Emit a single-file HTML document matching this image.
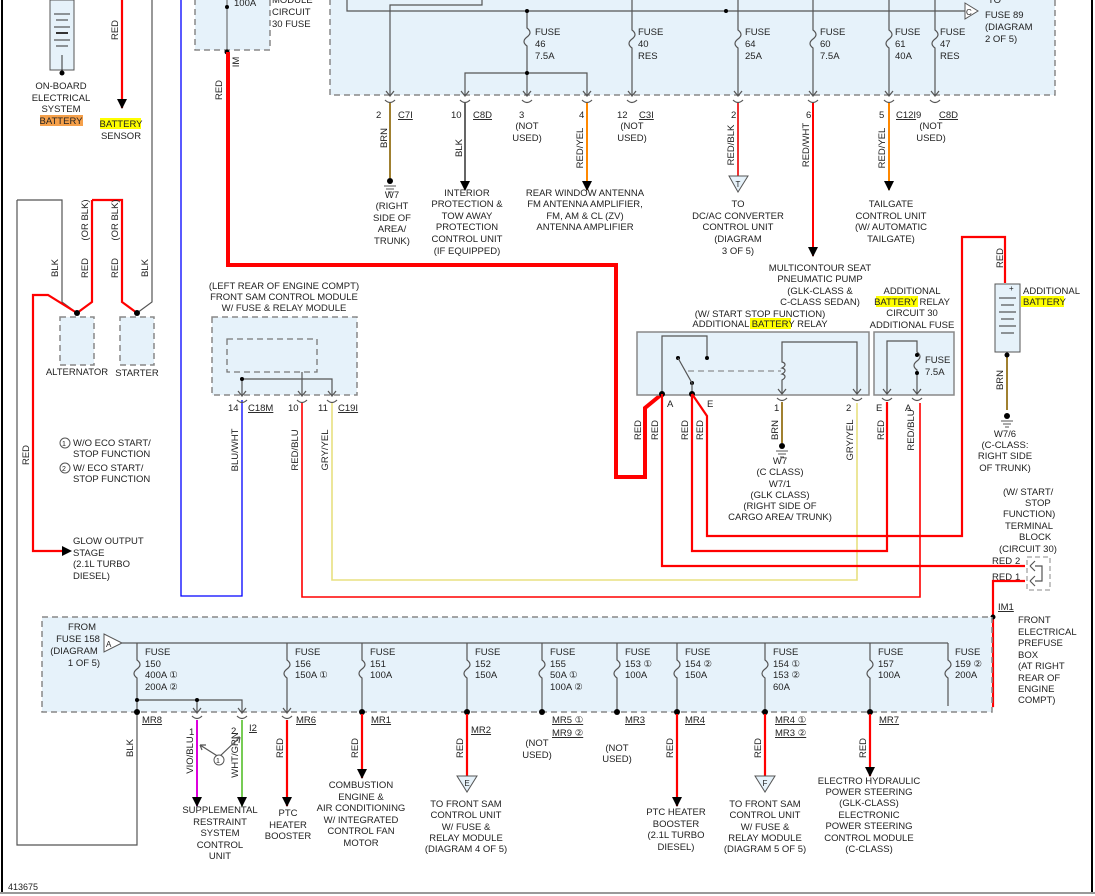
<!DOCTYPE html>
<html><head><meta charset="utf-8"><style>
body{margin:0;background:#fff}
svg{display:block}
text{font-family:"Liberation Sans",sans-serif;font-size:9.5px;fill:#222}
.m{text-anchor:middle}
.box{fill:#e6f2fa;stroke:#888;stroke-width:1.5;stroke-dasharray:6,4}
.g{stroke:#555;stroke-width:1.2;fill:none}
.r{stroke:#f00;stroke-width:2.2;fill:none}
</style></head><body>
<svg width="1095" height="896" viewBox="0 0 1095 896" xmlns="http://www.w3.org/2000/svg">
<defs>
<marker id="ar" markerWidth="12" markerHeight="12" refX="9" refY="5" orient="auto" markerUnits="userSpaceOnUse"><path d="M0,0 L10,5 L0,10 Z" fill="#000"/></marker>
</defs>
<line x1="2" y1="0" x2="2" y2="893" stroke="#000" stroke-width="2"/>
<line x1="1092" y1="0" x2="1092" y2="893" stroke="#000" stroke-width="2"/>
<line x1="0" y1="893" x2="1095" y2="893" stroke="#999" stroke-width="2"/>
<text x="8" y="890" style="font-size:9px">413675</text>

<rect x="50" y="0" width="24" height="70" fill="#e6f2fa" stroke="#555"/>
<g stroke="#333"><line x1="54" y1="14" x2="70" y2="14"/><line x1="56" y1="20" x2="68" y2="20"/><line x1="54" y1="27" x2="70" y2="27"/><line x1="56" y1="33" x2="68" y2="33" stroke-width="2"/><line x1="54" y1="40" x2="70" y2="40"/><line x1="56" y1="46" x2="68" y2="46"/><line x1="62" y1="55" x2="62" y2="72"/></g>
<circle cx="62" cy="73" r="2.5" fill="#000"/>
<text class="m" x="61" y="89">ON-BOARD</text><text class="m" x="61" y="101">ELECTRICAL</text><text class="m" x="61" y="112">SYSTEM</text>
<rect x="40" y="115" width="43" height="11" fill="#f5a04a"/><text class="m" x="61" y="124">BATTERY</text>
<line x1="122" y1="0" x2="122" y2="108" class="r" marker-end="url(#ar)"/>
<text transform="translate(118,30) rotate(-90)" class="m">RED</text>
<rect x="100" y="118" width="41" height="11" fill="#ff0"/><text class="m" x="121" y="127">BATTERY</text><text class="m" x="121" y="139">SENSOR</text>
<path class="g" d="M152,0 V302 L137,313" stroke-width="1.5"/>
<path class="g" d="M17,200 H62 V302 L77,313" stroke-width="1.5"/>
<path class="r" d="M92,200 H122 V302 L137,313"/>
<path class="r" d="M92,200 V302 L77,313"/>
<path class="r" d="M63,551 H33 V295 H48 L77,313"/>
<path d="M62,546 L72,551 L62,556 Z" fill="#000"/>
<path class="g" d="M17,200 V845 H137 V712" stroke-width="1.5"/>
<text transform="translate(58,268) rotate(-90)" class="m">BLK</text>
<text transform="translate(88,268) rotate(-90)" class="m">RED</text>
<text transform="translate(88,220) rotate(-90)" class="m">(OR BLK)</text>
<text transform="translate(118,268) rotate(-90)" class="m">RED</text>
<text transform="translate(118,220) rotate(-90)" class="m">(OR BLK)</text>
<text transform="translate(148,268) rotate(-90)" class="m">BLK</text>
<text transform="translate(29,455) rotate(-90)" class="m">RED</text>
<circle cx="77" cy="313" r="3" fill="#000"/><circle cx="137" cy="313" r="3" fill="#000"/>
<rect class="box" x="60" y="317" width="34" height="48"/>
<rect class="box" x="120" y="317" width="34" height="48"/>
<text class="m" x="77" y="375">ALTERNATOR</text><text class="m" x="137" y="376">STARTER</text>
<circle cx="65" cy="443" r="5" fill="none" stroke="#555"/><text x="62" y="446" style="font-size:7px">1</text>
<text x="73" y="446">W/O ECO START/</text><text x="73" y="457">STOP FUNCTION</text>
<circle cx="65" cy="468" r="5" fill="none" stroke="#555"/><text x="62" y="471" style="font-size:7px">2</text>
<text x="73" y="471">W/ ECO START/</text><text x="73" y="482">STOP FUNCTION</text>
<text x="73" y="544">GLOW OUTPUT</text><text x="73" y="556">STAGE</text><text x="73" y="567">(2.1L TURBO</text><text x="73" y="579">DIESEL)</text>

<rect class="box" x="195" y="-5" width="75" height="55"/>
<text x="234" y="6">100A</text>
<text x="272" y="3">MODULE</text><text x="272" y="15">CIRCUIT</text><text x="272" y="27">30 FUSE</text>
<line x1="227" y1="0" x2="227" y2="52" stroke="#555"/>
<circle cx="227" cy="7" r="2" fill="#000"/><circle cx="227" cy="52" r="2.5" fill="#000"/>
<text transform="translate(239,62) rotate(-90)" class="m">IM</text>
<path d="M228,52 V265 H616 V477 H645 V408 L662,394" stroke="#f00" stroke-width="4" fill="none"/>
<text transform="translate(222,90) rotate(-90)" class="m">RED</text>

<path d="M181,0 V596 H242 V400" stroke="#00f" stroke-width="1.3" fill="none"/>

<rect class="box" x="330" y="-5" width="725" height="100"/>
<path class="g" d="M347,0 V11 H965"/>
<path class="g" d="M390,95 V5 H482 V0"/>
<path class="g" d="M465,95 V73 H587 V95"/>
<path d="M965,3 L978,11 L965,19 Z" fill="#fff" stroke="#555"/><text x="966" y="15" style="font-size:8px">C</text>
<text x="988" y="3">TO</text><text x="985" y="18">FUSE 89</text><text x="985" y="30">(DIAGRAM</text><text x="985" y="42">2 OF 5)</text>
<g class="g">
<path d="M527,11 V28 c4,3 4,6 0,9 c-4,3 -4,6 0,9 V95"/>
<path d="M632,0 V30 c4,3 4,6 0,9 c-4,3 -4,6 0,9 V95"/>
<path d="M738,0 V30 c4,3 4,6 0,9 c-4,3 -4,6 0,9 V95"/>
<path d="M813,0 V30 c4,3 4,6 0,9 c-4,3 -4,6 0,9 V95"/>
<path d="M889,0 V30 c4,3 4,6 0,9 c-4,3 -4,6 0,9 V95"/>
<path d="M935,0 V30 c4,3 4,6 0,9 c-4,3 -4,6 0,9 V95"/>
</g>
<g fill="#000"><circle cx="527" cy="11" r="2"/><circle cx="527" cy="73" r="2"/><circle cx="726" cy="11" r="2"/></g>
<text x="535" y="35">FUSE</text><text x="535" y="47">46</text><text x="535" y="59">7.5A</text>
<text x="638" y="35">FUSE</text><text x="638" y="47">40</text><text x="638" y="59">RES</text>
<text x="745" y="35">FUSE</text><text x="745" y="47">64</text><text x="745" y="59">25A</text>
<text x="820" y="35">FUSE</text><text x="820" y="47">60</text><text x="820" y="59">7.5A</text>
<text x="895" y="35">FUSE</text><text x="895" y="47">61</text><text x="895" y="59">40A</text>
<text x="940" y="35">FUSE</text><text x="940" y="47">47</text><text x="940" y="59">RES</text>
<g class="g" fill="none">
<path d="M386,91 l4,5 l4,-5 M385,100 q5,5 10,0"/>
<path d="M461,91 l4,5 l4,-5 M460,100 q5,5 10,0"/>
<path d="M523,91 l4,5 l4,-5 M522,100 q5,5 10,0"/>
<path d="M583,91 l4,5 l4,-5 M582,100 q5,5 10,0"/>
<path d="M628,91 l4,5 l4,-5 M627,100 q5,5 10,0"/>
<path d="M734,91 l4,5 l4,-5 M733,100 q5,5 10,0"/>
<path d="M809,91 l4,5 l4,-5 M808,100 q5,5 10,0"/>
<path d="M885,91 l4,5 l4,-5 M884,100 q5,5 10,0"/>
<path d="M931,91 l4,5 l4,-5 M930,100 q5,5 10,0"/>
</g>
<text x="376" y="118">2</text><text x="398" y="118" text-decoration="underline">C7I</text>
<text x="451" y="118">10</text><text x="473" y="118" text-decoration="underline">C8D</text>
<text x="519" y="118">3</text><text class="m" x="527" y="129">(NOT</text><text class="m" x="527" y="141">USED)</text>
<text x="579" y="118">4</text>
<text x="617" y="118">12</text><text x="639" y="118" text-decoration="underline">C3I</text><text class="m" x="632" y="129">(NOT</text><text class="m" x="632" y="141">USED)</text>
<text x="731" y="118">2</text><text x="806" y="118">6</text>
<text x="879" y="118">5</text><text x="896" y="118" text-decoration="underline">C12I</text>
<text x="916" y="118">9</text><text x="939" y="118" text-decoration="underline">C8D</text><text class="m" x="931" y="129">(NOT</text><text class="m" x="931" y="141">USED)</text>
<line x1="390" y1="103" x2="390" y2="178" stroke="#a08030" stroke-width="2"/>
<circle cx="390" cy="181" r="3" fill="#000"/><path d="M384,186 h12 M386,189 h8 M388,192 h4" stroke="#555"/>
<text transform="translate(387,138) rotate(-90)" class="m">BRN</text>
<text class="m" x="392" y="198">W7</text><text class="m" x="392" y="209">(RIGHT</text><text class="m" x="392" y="221">SIDE OF</text><text class="m" x="392" y="232">AREA/</text><text class="m" x="392" y="244">TRUNK)</text>
<line x1="465" y1="103" x2="465" y2="190" stroke="#333" stroke-width="1.5" marker-end="url(#ar)"/>
<text transform="translate(462,148) rotate(-90)" class="m">BLK</text>
<text class="m" x="467" y="196">INTERIOR</text><text class="m" x="467" y="207">PROTECTION &amp;</text><text class="m" x="467" y="219">TOW AWAY</text><text class="m" x="467" y="230">PROTECTION</text><text class="m" x="467" y="242">CONTROL UNIT</text><text class="m" x="467" y="254">(IF EQUIPPED)</text>
<line x1="587" y1="103" x2="587" y2="190" stroke="#f80" stroke-width="2" marker-end="url(#ar)"/>
<text transform="translate(583,148) rotate(-90)" class="m">RED/YEL</text>
<text class="m" x="585" y="196">REAR WINDOW ANTENNA</text><text class="m" x="585" y="207">FM ANTENNA AMPLIFIER,</text><text class="m" x="585" y="219">FM, AM &amp; CL (ZV)</text><text class="m" x="585" y="230">ANTENNA AMPLIFIER</text>
<line x1="738" y1="103" x2="738" y2="176" stroke="#e33" stroke-width="2"/>
<path d="M729,176 L748,176 L738,192 Z" fill="#e6f2fa" stroke="#555"/><text class="m" x="738" y="187" style="font-size:8px">T</text>
<text transform="translate(734,145) rotate(-90)" class="m">RED/BLK</text>
<text class="m" x="738" y="207">TO</text><text class="m" x="738" y="219">DC/AC CONVERTER</text><text class="m" x="738" y="230">CONTROL UNIT</text><text class="m" x="738" y="242">(DIAGRAM</text><text class="m" x="738" y="254">3 OF 5)</text>
<line x1="813" y1="103" x2="813" y2="256" stroke="#f00" stroke-width="2" marker-end="url(#ar)"/>
<text transform="translate(809,145) rotate(-90)" class="m">RED/WHT</text>
<text class="m" x="820" y="271">MULTICONTOUR SEAT</text><text class="m" x="820" y="282">PNEUMATIC PUMP</text><text class="m" x="820" y="294">(GLK-CLASS &amp;</text><text class="m" x="820" y="305">C-CLASS SEDAN)</text>
<line x1="889" y1="103" x2="889" y2="190" stroke="#f80" stroke-width="2" marker-end="url(#ar)"/>
<text transform="translate(885,148) rotate(-90)" class="m">RED/YEL</text>
<text class="m" x="891" y="207">TAILGATE</text><text class="m" x="891" y="219">CONTROL UNIT</text><text class="m" x="891" y="230">(W/ AUTOMATIC</text><text class="m" x="891" y="242">TAILGATE)</text>

<text class="m" x="284" y="289">(LEFT REAR OF ENGINE COMPT)</text>
<text class="m" x="284" y="300">FRONT SAM CONTROL MODULE</text>
<text class="m" x="284" y="311">W/ FUSE &amp; RELAY MODULE</text>
<rect class="box" x="212" y="317" width="145" height="78"/>
<rect x="227" y="339" width="90" height="33" fill="none" stroke="#777" stroke-dasharray="6,4" stroke-width="1.3"/>
<path class="g" d="M302,372 V395 M242,378 V395 M242,379 H332 V395"/>
<circle cx="242" cy="379" r="2" fill="#000"/>
<g class="g"><path d="M238,391 l4,5 l4,-5 M237,400 q5,5 10,0"/><path d="M298,391 l4,5 l4,-5 M297,400 q5,5 10,0"/><path d="M328,391 l4,5 l4,-5 M327,400 q5,5 10,0"/></g>
<text x="228" y="411">14</text><text x="248" y="411" text-decoration="underline">C18M</text>
<text x="288" y="411">10</text><text x="318" y="411">11</text><text x="338" y="411" text-decoration="underline">C19I</text>
<text transform="translate(238,450) rotate(-90)" class="m">BLU/WHT</text>
<text transform="translate(298,450) rotate(-90)" class="m">RED/BLU</text>
<text transform="translate(328,450) rotate(-90)" class="m">GRY/YEL</text>
<path d="M302,403 V597 H920 V403" stroke="#f00" stroke-width="1.6" fill="none"/>
<path d="M332,403 V580 H857 V403" stroke="#e8e080" stroke-width="1.6" fill="none"/>

<text class="m" x="760" y="317">(W/ START STOP FUNCTION)</text>
<rect x="750" y="318" width="41" height="11" fill="#ff0"/>
<text class="m" x="760" y="327">ADDITIONAL BATTERY RELAY</text>
<rect class="box" x="637" y="332" width="232" height="63" style="stroke-dasharray:none"/>
<path class="g" d="M662,394 V336 H707 V358"/>
<circle cx="707" cy="358" r="2" fill="#000"/><circle cx="678" cy="358" r="2" fill="#000"/><circle cx="692" cy="383" r="2" fill="#000"/>
<path class="g" d="M678,358 L692,383 V394"/>
<line x1="688" y1="371" x2="781" y2="371" stroke="#777" stroke-dasharray="6,4"/>
<path class="g" d="M782,394 V380 c4,-2 4,-5 0,-6 c4,-2 4,-5 0,-6 c4,-2 4,-5 0,-6 V342 H857 V394"/>
<circle cx="662" cy="394" r="3" fill="#000"/><circle cx="692" cy="394" r="3" fill="#000"/>
<text x="667" y="407">A</text><text x="707" y="407">E</text>
<g class="g"><path d="M778,389 l4,5 l4,-5 M777,398 q5,5 10,0"/><path d="M853,389 l4,5 l4,-5 M852,398 q5,5 10,0"/></g>
<text x="774" y="411">1</text><text x="846" y="411">2</text>
<line x1="782" y1="402" x2="782" y2="443" stroke="#a08030" stroke-width="2"/>
<circle cx="782" cy="446" r="3" fill="#000"/><path d="M776,451 h12 M778,454 h8 M780,457 h4" stroke="#555"/>
<text transform="translate(778,430) rotate(-90)" class="m">BRN</text>
<text class="m" x="780" y="464">W7</text><text class="m" x="780" y="475">(C CLASS)</text><text class="m" x="780" y="487">W7/1</text><text class="m" x="780" y="498">(GLK CLASS)</text><text class="m" x="780" y="509">(RIGHT SIDE OF</text><text class="m" x="780" y="520">CARGO AREA/ TRUNK)</text>
<text transform="translate(853,440) rotate(-90)" class="m">GRY/YEL</text>
<text class="m" x="912" y="294">ADDITIONAL</text>
<rect x="876" y="296" width="42" height="11" fill="#ff0"/>
<text class="m" x="912" y="305">BATTERY RELAY</text><text class="m" x="912" y="316">CIRCUIT 30</text><text class="m" x="912" y="328">ADDITIONAL FUSE</text>
<rect class="box" x="874" y="332" width="80" height="63" style="stroke-dasharray:none"/>
<path class="g" d="M887,394 V341 H917 V352 c4,3 4,6 0,9 c-4,3 -4,6 0,9 V394"/>
<circle cx="917" cy="355" r="2" fill="#000"/><circle cx="917" cy="373" r="2" fill="#000"/>
<text x="925" y="363">FUSE</text><text x="925" y="375">7.5A</text>
<g class="g"><path d="M883,389 l4,5 l4,-5 M882,398 q5,5 10,0"/><path d="M913,389 l4,5 l4,-5 M912,398 q5,5 10,0"/></g>
<text x="876" y="411">E</text><text x="905" y="411">A</text>
<text transform="translate(884,430) rotate(-90)" class="m">RED</text>
<text transform="translate(914,430) rotate(-90)" class="m">RED/BLU</text>
<text transform="translate(641,430) rotate(-90)" class="m">RED</text>
<text transform="translate(658,430) rotate(-90)" class="m">RED</text>
<text transform="translate(688,430) rotate(-90)" class="m">RED</text>
<text transform="translate(703,430) rotate(-90)" class="m">RED</text>
<path class="r" d="M662,394 V566 H1025" stroke-width="1.8"/>
<path class="r" d="M692,394 V551 H887 V402" stroke-width="1.8"/>
<path class="r" d="M692,394 L707,416 V536 H962 V237 H1005 V283" stroke-width="1.8"/>
<text transform="translate(1003,258) rotate(-90)" class="m">RED</text>
<rect x="995" y="284" width="25" height="68" fill="#e6f2fa" stroke="#555"/>
<g stroke="#333"><line x1="999" y1="298" x2="1016" y2="298"/><line x1="1001" y1="305" x2="1014" y2="305"/><line x1="999" y1="312" x2="1016" y2="312"/><line x1="1001" y1="319" x2="1014" y2="319"/><line x1="999" y1="326" x2="1016" y2="326"/><line x1="1001" y1="333" x2="1014" y2="333"/></g>
<text x="1009" y="291" style="font-size:8px">+</text>
<text x="1023" y="294">ADDITIONAL</text>
<rect x="1021" y="296" width="43" height="11" fill="#ff0"/><text x="1023" y="305">BATTERY</text>
<line x1="1007" y1="355" x2="1007" y2="410" stroke="#a08030" stroke-width="2"/>
<circle cx="1007" cy="355" r="2.5" fill="#000"/>
<text transform="translate(1003,380) rotate(-90)" class="m">BRN</text>
<circle cx="1007" cy="416" r="3" fill="#000"/><path d="M1001,421 h12 M1003,424 h8 M1005,427 h4" stroke="#555"/>
<text class="m" x="1005" y="437">W7/6</text><text class="m" x="1005" y="448">(C-CLASS:</text><text class="m" x="1005" y="459">RIGHT SIDE</text><text class="m" x="1005" y="471">OF TRUNK)</text>
<text x="1003" y="495">(W/ START/</text><text x="1025" y="506">STOP</text><text x="1003" y="517">FUNCTION)</text><text x="1005" y="529">TERMINAL</text><text x="1019" y="540">BLOCK</text><text x="999" y="552">(CIRCUIT 30)</text>
<text x="992" y="564">RED</text><text x="1015" y="564">2</text><text x="992" y="580">RED</text><text x="1015" y="580">1</text>
<rect x="1027" y="557" width="23" height="33" fill="none" stroke="#888" stroke-dasharray="5,3"/>
<path class="g" d="M1030,566 l5,-5 M1030,566 l5,5 M1030,581 l5,-5 M1030,581 l5,5 M1035,566 H1042 V581 H1035"/>
<path class="r" d="M1025,581 H993 V706 H948" stroke-width="1.8"/>
<circle cx="993" cy="617" r="2.5" fill="#000"/>
<text x="998" y="610" text-decoration="underline">IM1</text>

<rect class="box" x="42" y="617" width="950" height="95"/>
<text x="1018" y="623">FRONT</text><text x="1018" y="635">ELECTRICAL</text><text x="1018" y="646">PREFUSE</text><text x="1018" y="658">BOX</text><text x="1018" y="669">(AT RIGHT</text><text x="1018" y="681">REAR OF</text><text x="1018" y="692">ENGINE</text><text x="1018" y="703">COMPT)</text>
<text class="m" x="82" y="630">FROM</text><text class="m" x="78" y="642">FUSE 158</text><text class="m" x="74" y="654">(DIAGRAM</text><text class="m" x="84" y="666">1 OF 5)</text>
<path d="M104,634 L122,643 L104,652 Z" fill="#fff" stroke="#555"/><text x="106" y="647" style="font-size:8px">A</text>
<line x1="122" y1="643" x2="948" y2="643" stroke="#333"/>
<g class="g">
<path d="M137,643 V660 c4,3 4,6 0,9 c-4,3 -4,6 0,9 V712"/>
<path d="M287,643 V660 c4,3 4,6 0,9 c-4,3 -4,6 0,9 V712"/>
<path d="M362,643 V660 c4,3 4,6 0,9 c-4,3 -4,6 0,9 V712"/>
<path d="M467,643 V660 c4,3 4,6 0,9 c-4,3 -4,6 0,9 V712"/>
<path d="M542,643 V660 c4,3 4,6 0,9 c-4,3 -4,6 0,9 V712"/>
<path d="M617,643 V660 c4,3 4,6 0,9 c-4,3 -4,6 0,9 V712"/>
<path d="M677,643 V660 c4,3 4,6 0,9 c-4,3 -4,6 0,9 V712"/>
<path d="M765,643 V660 c4,3 4,6 0,9 c-4,3 -4,6 0,9 V712"/>
<path d="M870,643 V660 c4,3 4,6 0,9 c-4,3 -4,6 0,9 V712"/>
<path d="M948,643 V660 c4,3 4,6 0,9 c-4,3 -4,6 0,9 V706"/>
<path d="M137,700 H242 V712 M197,700 V712"/>
</g>
<g fill="#000"><circle cx="137" cy="712" r="3"/><circle cx="362" cy="712" r="3"/><circle cx="467" cy="712" r="3"/><circle cx="542" cy="712" r="3"/><circle cx="617" cy="712" r="3"/><circle cx="677" cy="712" r="3"/><circle cx="765" cy="712" r="3"/><circle cx="870" cy="712" r="3"/><circle cx="137" cy="700" r="2"/><circle cx="197" cy="700" r="2"/></g>
<text x="145" y="655">FUSE</text><text x="145" y="667">150</text><text x="145" y="678">400A ①</text><text x="145" y="690">200A ②</text>
<text x="295" y="655">FUSE</text><text x="295" y="667">156</text><text x="295" y="678">150A ①</text>
<text x="370" y="655">FUSE</text><text x="370" y="667">151</text><text x="370" y="678">100A</text>
<text x="475" y="655">FUSE</text><text x="475" y="667">152</text><text x="475" y="678">150A</text>
<text x="550" y="655">FUSE</text><text x="550" y="667">155</text><text x="550" y="678">50A ①</text><text x="550" y="690">100A ②</text>
<text x="625" y="655">FUSE</text><text x="625" y="667">153 ①</text><text x="625" y="678">100A</text>
<text x="685" y="655">FUSE</text><text x="685" y="667">154 ②</text><text x="685" y="678">150A</text>
<text x="773" y="655">FUSE</text><text x="773" y="667">154 ①</text><text x="773" y="678">153 ②</text><text x="773" y="690">60A</text>
<text x="878" y="655">FUSE</text><text x="878" y="667">157</text><text x="878" y="678">100A</text>
<text x="955" y="655">FUSE</text><text x="955" y="667">159 ②</text><text x="955" y="678">200A</text>
<g class="g"><path d="M193,708 l4,5 l4,-5 M192,716 q5,5 10,0"/><path d="M238,708 l4,5 l4,-5 M237,716 q5,5 10,0"/><path d="M283,708 l4,5 l4,-5 M282,716 q5,5 10,0"/></g>
<text x="142" y="723" text-decoration="underline">MR8</text>
<text x="189" y="735">1</text><text x="231" y="734">2</text><text x="249" y="731" text-decoration="underline">I2</text>
<text x="296" y="723" text-decoration="underline">MR6</text><text x="371" y="723" text-decoration="underline">MR1</text>
<text x="471" y="733" text-decoration="underline">MR2</text>
<text x="552" y="723" text-decoration="underline">MR5 ①</text><text x="552" y="736" text-decoration="underline">MR9 ②</text>
<text class="m" x="537" y="746">(NOT</text><text class="m" x="537" y="758">USED)</text>
<text x="625" y="723" text-decoration="underline">MR3</text><text class="m" x="617" y="751">(NOT</text><text class="m" x="617" y="762">USED)</text>
<text x="685" y="723" text-decoration="underline">MR4</text>
<text x="775" y="723" text-decoration="underline">MR4 ①</text><text x="775" y="736" text-decoration="underline">MR3 ②</text>
<text x="879" y="723" text-decoration="underline">MR7</text>
<text transform="translate(133,748) rotate(-90)" class="m">BLK</text>
<line x1="197" y1="720" x2="197" y2="806" stroke="#d0d" stroke-width="2" marker-end="url(#ar)"/>
<line x1="242" y1="720" x2="242" y2="806" stroke="#7c5" stroke-width="2" marker-end="url(#ar)"/>
<text transform="translate(193,755) rotate(-90)" class="m">VIO/BLU</text>
<text transform="translate(238,755) rotate(-90)" class="m">WHT/GRN</text>
<path class="g" d="M200,745 L219,757 L240,737 M200,745 l6,0 M200,745 l2,5 M240,737 l-6,1 M240,737 l-1,6"/>
<circle cx="219" cy="760" r="5" fill="#fff" stroke="#555"/><text x="216" y="763" style="font-size:7px">1</text>
<text class="m" x="220" y="813">SUPPLEMENTAL</text><text class="m" x="220" y="825">RESTRAINT</text><text class="m" x="220" y="836">SYSTEM</text><text class="m" x="220" y="848">CONTROL</text><text class="m" x="220" y="859">UNIT</text>
<line x1="287" y1="720" x2="287" y2="806" stroke="#f00" stroke-width="2.2" marker-end="url(#ar)"/>
<text transform="translate(283,748) rotate(-90)" class="m">RED</text>
<text class="m" x="288" y="816">PTC</text><text class="m" x="288" y="828">HEATER</text><text class="m" x="288" y="839">BOOSTER</text>
<line x1="362" y1="714" x2="362" y2="778" stroke="#f00" stroke-width="2.2" marker-end="url(#ar)"/>
<text transform="translate(358,748) rotate(-90)" class="m">RED</text>
<text class="m" x="361" y="788">COMBUSTION</text><text class="m" x="361" y="800">ENGINE &amp;</text><text class="m" x="361" y="811">AIR CONDITIONING</text><text class="m" x="361" y="823">W/ INTEGRATED</text><text class="m" x="361" y="834">CONTROL FAN</text><text class="m" x="361" y="846">MOTOR</text>
<line x1="467" y1="714" x2="467" y2="776" stroke="#f00" stroke-width="2.2"/>
<path d="M457,776 L477,776 L467,792 Z" fill="#e6f2fa" stroke="#555"/><text class="m" x="467" y="786" style="font-size:8px">E</text>
<text transform="translate(463,748) rotate(-90)" class="m">RED</text>
<text class="m" x="466" y="807">TO FRONT SAM</text><text class="m" x="466" y="818">CONTROL UNIT</text><text class="m" x="466" y="830">W/ FUSE &amp;</text><text class="m" x="466" y="841">RELAY MODULE</text><text class="m" x="466" y="852">(DIAGRAM 4 OF 5)</text>
<line x1="677" y1="714" x2="677" y2="806" stroke="#f00" stroke-width="2.2" marker-end="url(#ar)"/>
<text transform="translate(673,748) rotate(-90)" class="m">RED</text>
<text class="m" x="676" y="815">PTC HEATER</text><text class="m" x="676" y="827">BOOSTER</text><text class="m" x="676" y="838">(2.1L TURBO</text><text class="m" x="676" y="850">DIESEL)</text>
<line x1="765" y1="714" x2="765" y2="776" stroke="#f00" stroke-width="2.2"/>
<path d="M755,776 L775,776 L765,792 Z" fill="#e6f2fa" stroke="#555"/><text class="m" x="765" y="786" style="font-size:8px">F</text>
<text transform="translate(761,748) rotate(-90)" class="m">RED</text>
<text class="m" x="765" y="807">TO FRONT SAM</text><text class="m" x="765" y="818">CONTROL UNIT</text><text class="m" x="765" y="830">W/ FUSE &amp;</text><text class="m" x="765" y="841">RELAY MODULE</text><text class="m" x="765" y="852">(DIAGRAM 5 OF 5)</text>
<line x1="870" y1="714" x2="870" y2="776" stroke="#f00" stroke-width="2.2" marker-end="url(#ar)"/>
<text transform="translate(866,748) rotate(-90)" class="m">RED</text>
<text class="m" x="869" y="784">ELECTRO HYDRAULIC</text><text class="m" x="869" y="795">POWER STEERING</text><text class="m" x="869" y="806">(GLK-CLASS)</text><text class="m" x="869" y="818">ELECTRONIC</text><text class="m" x="869" y="829">POWER STEERING</text><text class="m" x="869" y="841">CONTROL MODULE</text><text class="m" x="869" y="852">(C-CLASS)</text>
</svg>
</body></html>
